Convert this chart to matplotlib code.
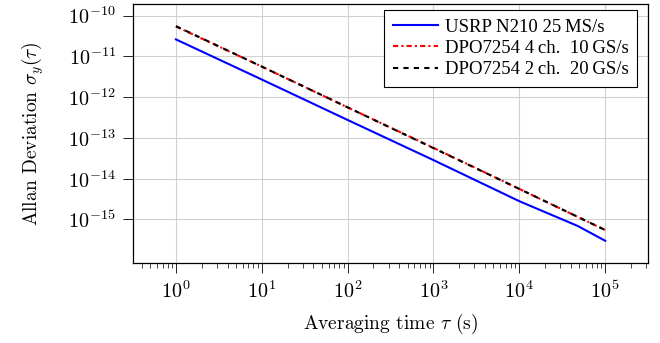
import numpy as np
import matplotlib
matplotlib.use("Agg")
import matplotlib.pyplot as plt
from matplotlib.ticker import LogLocator, NullFormatter

plt.rcParams["mathtext.fontset"] = "cm"
plt.rcParams["font.family"] = ["cmr10", "DejaVu Serif"]
plt.rcParams["axes.formatter.use_mathtext"] = True

# == DATOS ==
tau_usrp = [1, 10, 100, 1000, 1e4, 4.8e4, 1e5]
adev_usrp = [2.6e-11, 2.7e-12, 2.75e-13, 2.85e-14, 2.8e-15, 6.9e-16, 3.0e-16]

tau_dpo = [1, 10, 100, 1000, 1e4, 1e5]
adev_dpo4 = [5.4e-11, 5.6e-12, 5.6e-13, 5.7e-14, 5.6e-15, 5.5e-16]
adev_dpo2 = [5.5e-11, 5.6e-12, 5.6e-13, 5.6e-14, 5.6e-15, 5.5e-16]

labels = ["USRP N210 25\u2009MS/s", "DPO7254 4\u2009ch.  10\u2009GS/s", "DPO7254 2\u2009ch.  20\u2009GS/s"]
xticks = [1, 1e1, 1e2, 1e3, 1e4, 1e5]
yticks = [1e-10, 1e-11, 1e-12, 1e-13, 1e-14, 1e-15]

# == FIGURA ==
fig = plt.figure(figsize=(6.6, 3.43), dpi=100)
ax = fig.add_axes([0.2015, 0.233, 0.7805, 0.755])

ax.plot(tau_usrp, adev_usrp, color="blue", lw=1.5, label=labels[0])
ax.plot(tau_dpo, adev_dpo4, color="red", lw=1.5, dashes=(2.5, 1.5, 1, 1.5), label=labels[1])
ax.plot(tau_dpo, adev_dpo2, color="black", lw=1.5, dashes=(2.5, 2.5), label=labels[2])

ax.set_xscale("log")
ax.set_yscale("log")
ax.set_xlim(10**-0.5, 10**5.5)
ax.set_ylim(10**-16.07, 10**-9.72)

ax.set_xticks(xticks)
ax.xaxis.set_minor_locator(LogLocator(base=10, subs=np.arange(2, 10), numticks=20))
ax.xaxis.set_minor_formatter(NullFormatter())
ax.set_yticks(yticks)
ax.yaxis.set_minor_locator(plt.NullLocator())

ax.grid(True, which="major", color="#d0d0d0", lw=0.8)
ax.set_axisbelow(True)
ax.tick_params(axis="both", which="major", direction="out", length=7.5, width=0.6,
               labelsize=14.5, pad=5, top=False, right=False)
ax.tick_params(axis="x", which="minor", direction="out", length=3.8, width=0.5, top=False)
for s in ax.spines.values():
    s.set_linewidth(0.9)

ax.set_xlabel(r"Averaging time $\tau$ (s)", fontsize=14, labelpad=7)
ax.set_ylabel(r"Allan Deviation $\sigma_y(\tau)$", fontsize=14, labelpad=16)

leg = ax.legend(loc="upper right", bbox_to_anchor=(0.979, 0.977), fancybox=False,
                edgecolor="black", framealpha=1, handlelength=2.4, handletextpad=0.4,
                borderpad=0.45, labelspacing=0.22, borderaxespad=0,
                prop={"family": "Liberation Serif", "size": 13.5})
leg.get_frame().set_linewidth(0.8)

fig.savefig("out.png", dpi=100)
